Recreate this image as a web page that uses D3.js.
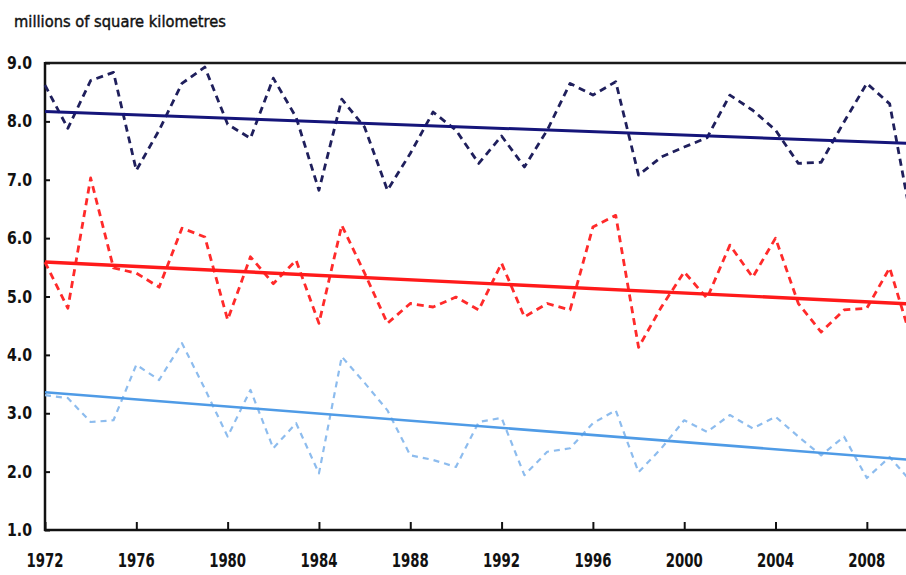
<!DOCTYPE html>
<html>
<head>
<meta charset="utf-8">
<script src="https://cdn.jsdelivr.net/npm/d3@7/dist/d3.min.js"></script>
<style>
  html, body { margin: 0; padding: 0; background: #fff; overflow: hidden; }
  svg { display: block; }
  text { font-family: "DejaVu Sans", Verdana, sans-serif; fill: #111; }
</style>
</head>
<body>
<svg id="chart" width="906" height="575"></svg>
<script>
const title = "millions of square kilometres";
const years = d3.range(1972, 2011);
const xTickYears = [1972, 1976, 1980, 1984, 1988, 1992, 1996, 2000, 2004, 2008];
const yTickValues = [1, 2, 3, 4, 5, 6, 7, 8, 9];

const navySeries = [8.62, 7.88, 8.70, 8.84, 7.16, 7.85, 8.65, 8.93, 7.95, 7.71,
                    8.74, 8.07, 6.82, 8.38, 7.90, 6.82, 7.45, 8.16, 7.85, 7.28,
                    7.75, 7.22, 7.85, 8.65, 8.45, 8.68, 7.08, 7.39, 7.56, 7.72,
                    8.45, 8.19, 7.85, 7.28, 7.30, 7.99, 8.65, 8.30, 6.20];
const redSeries  = [5.59, 4.80, 7.03, 5.49, 5.40, 5.16, 6.17, 6.02, 4.60, 5.68,
                    5.22, 5.62, 4.54, 6.22, 5.40, 4.54, 4.88, 4.82, 4.99, 4.77,
                    5.57, 4.65, 4.88, 4.77, 6.19, 6.39, 4.13, 4.82, 5.42, 4.97,
                    5.88, 5.33, 6.00, 4.88, 4.39, 4.77, 4.80, 5.49, 4.20];
const blueSeries = [3.31, 3.26, 2.85, 2.88, 3.83, 3.57, 4.20, 3.42, 2.60, 3.40,
                    2.40, 2.83, 1.97, 3.97, 3.52, 3.05, 2.28, 2.20, 2.08, 2.85,
                    2.92, 1.94, 2.34, 2.40, 2.83, 3.05, 1.99, 2.40, 2.88, 2.68,
                    2.97, 2.74, 2.94, 2.60, 2.28, 2.60, 1.89, 2.25, 1.80];

// trend lines: [value at 1972, value at 2010]
const navyTrend = [8.17, 7.62];
const redTrend  = [5.59, 4.87];
const blueTrend = [3.36, 2.20];
const trendYears = [1972, 2010];

const svg = d3.select("#chart");
const x = d3.scaleLinear().domain([1972, 2010]).range([45, 912.5]);
const y = d3.scaleLinear().domain([1, 9]).range([530, 63]);

// title
svg.append("text")
  .attr("x", 14).attr("y", 27)
  .attr("font-size", 16.5)
  .attr("stroke", "#111").attr("stroke-width", 0.45)
  .attr("textLength", 212).attr("lengthAdjust", "spacingAndGlyphs")
  .text(title);

// top frame line
svg.append("line")
  .attr("x1", x(1972)).attr("x2", 906)
  .attr("y1", y(9)).attr("y2", y(9))
  .attr("stroke", "#1a1a1a").attr("stroke-width", 2.5);

// y axis
const yAxis = d3.axisRight(y).tickValues(yTickValues).tickSize(5).tickFormat("");
const gy = svg.append("g").attr("transform", `translate(${x(1972)},0)`).call(yAxis);
gy.select(".domain").remove();
gy.selectAll(".tick line").attr("stroke", "#111").attr("stroke-width", 2);
svg.append("line")
  .attr("x1", x(1972)).attr("x2", x(1972))
  .attr("y1", y(9) - 1).attr("y2", y(1) + 1)
  .attr("stroke", "#111").attr("stroke-width", 2.5);
svg.selectAll(".ylab").data(yTickValues).enter().append("text")
  .attr("class", "ylab")
  .attr("x", 32).attr("y", d => y(d))
  .attr("dy", "0.36em")
  .attr("text-anchor", "end")
  .attr("font-size", 17).attr("font-weight", "bold")
  .attr("textLength", 25).attr("lengthAdjust", "spacingAndGlyphs")
  .text(d => d3.format(".1f")(d));

// x axis
const xAxis = d3.axisTop(x).tickValues(xTickYears).tickSize(8).tickFormat("");
const gx = svg.append("g").attr("transform", `translate(0,${y(1)})`).call(xAxis);
gx.select(".domain").remove();
gx.selectAll(".tick line").attr("stroke", "#111").attr("stroke-width", 2);
svg.append("line")
  .attr("x1", x(1972) - 1).attr("x2", 906)
  .attr("y1", y(1)).attr("y2", y(1))
  .attr("stroke", "#111").attr("stroke-width", 2.5);
svg.selectAll(".xlab").data(xTickYears).enter().append("text")
  .attr("class", "xlab")
  .attr("x", d => x(d)).attr("y", 567)
  .attr("text-anchor", "middle")
  .attr("font-size", 20).attr("font-weight", "bold")
  .attr("textLength", 37).attr("lengthAdjust", "spacingAndGlyphs")
  .text(d => d);

const line = d3.line().x(d => x(d[0])).y(d => y(d[1]));

function drawSeries(values, color, width, dash) {
  svg.append("path")
    .datum(years.map((yr, i) => [yr, values[i]]))
    .attr("d", line)
    .attr("fill", "none")
    .attr("stroke", color)
    .attr("stroke-width", width)
    .attr("stroke-dasharray", dash)
    .attr("stroke-linejoin", "round");
}
function drawTrend(vals, color, width) {
  svg.append("path")
    .datum(trendYears.map((yr, i) => [yr, vals[i]]))
    .attr("d", line)
    .attr("fill", "none")
    .attr("stroke", color)
    .attr("stroke-width", width);
}

drawSeries(blueSeries, "#8dbcee", 2.2, "6,5");
drawTrend(blueTrend, "#4f9be6", 2.6);
drawSeries(redSeries, "#ff2a2a", 2.8, "7,5");
drawTrend(redTrend, "#ff1a1a", 3.4);
drawSeries(navySeries, "#1f1f5c", 2.8, "7,5");
drawTrend(navyTrend, "#15157a", 3.0);
</script>
</body>
</html>
